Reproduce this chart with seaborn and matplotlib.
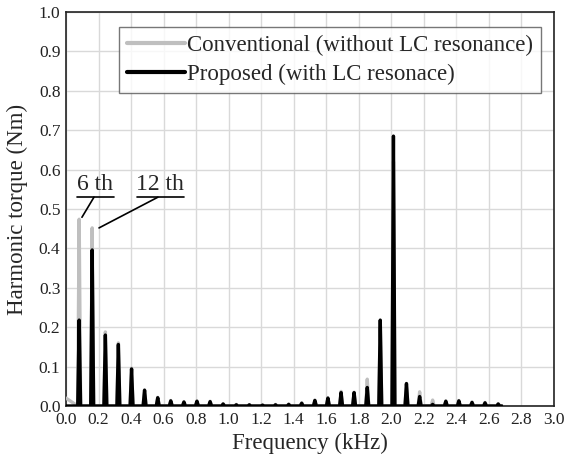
import matplotlib
matplotlib.use("Agg")
import matplotlib.pyplot as plt
import seaborn as sns
import pandas as pd

# ---- data ----
peak_freq_khz = [0.081, 0.161, 0.242, 0.322, 0.403, 0.483, 0.564, 0.644, 0.725, 0.805,
                 0.886, 0.966, 1.047, 1.127, 1.208, 1.288, 1.369, 1.449, 1.530, 1.610,
                 1.691, 1.771, 1.852, 1.932, 2.013, 2.093, 2.174, 2.254, 2.335, 2.415,
                 2.496, 2.576, 2.657]
conventional = [0.474, 0.452, 0.188, 0.160, 0.096, 0.041, 0.022, 0.014, 0.011, 0.013,
                0.012, 0.006, 0.004, 0.003, 0.003, 0.004, 0.005, 0.008, 0.015, 0.021,
                0.037, 0.035, 0.068, 0.200, 0.620, 0.055, 0.036, 0.015, 0.013, 0.014,
                0.010, 0.009, 0.006]
proposed = [0.218, 0.396, 0.180, 0.156, 0.094, 0.040, 0.021, 0.013, 0.010, 0.012,
            0.011, 0.005, 0.003, 0.003, 0.002, 0.003, 0.004, 0.007, 0.014, 0.020,
            0.034, 0.034, 0.047, 0.218, 0.685, 0.057, 0.024, 0.004, 0.012, 0.013,
            0.009, 0.008, 0.005]
dc_level = {"conv": 0.02, "prop": 0.0}
spectrum_end_khz = 2.68
x_ticks = [0.0, 0.2, 0.4, 0.6, 0.8, 1.0, 1.2, 1.4, 1.6, 1.8, 2.0, 2.2, 2.4, 2.6, 2.8, 3.0]
y_ticks = [0.0, 0.1, 0.2, 0.3, 0.4, 0.5, 0.6, 0.7, 0.8, 0.9, 1.0]
label_conv = "Conventional (without LC resonance)"
label_prop = "Proposed (with LC resonace)"


def spectrum(start, amps, half=0.009):
    xs, ys = [0.0], [start]
    for f, a in zip(peak_freq_khz, amps):
        xs += [f - half, f, f + half]
        ys += [0.0, a, 0.0]
    xs.append(spectrum_end_khz)
    ys.append(0.0)
    return pd.DataFrame({"f": xs, "t": ys})


sns.set_theme(style="white")
plt.rcParams["font.family"] = ["Liberation Serif", "DejaVu Serif"]
plt.rcParams["mathtext.fontset"] = "stix"

fig = plt.figure(figsize=(5.66, 4.66), dpi=100)
ax = fig.add_axes([0.1166, 0.1288, 0.8622, 0.8454])

df_c = spectrum(dc_level["conv"], conventional)
df_p = spectrum(dc_level["prop"], proposed)
sns.lineplot(data=df_c, x="f", y="t", sort=False, estimator=None, ax=ax,
             color="#bfbfbf", linewidth=2.4, label=label_conv, zorder=3)
sns.lineplot(data=df_p, x="f", y="t", sort=False, estimator=None, ax=ax,
             color="black", linewidth=2.4, label=label_prop, zorder=4)

ax.set_xlim(0, 3.0)
ax.set_ylim(0, 1.0)
ax.set_xticks(x_ticks)
ax.set_yticks(y_ticks)
ax.set_xticklabels([f"{v:.1f}" for v in x_ticks])
ax.set_yticklabels([f"{v:.1f}" for v in y_ticks])
ax.tick_params(axis="both", labelsize=12.5, length=0, pad=4, colors="#222222")
ax.grid(True, color="#d9d9d9", linewidth=1.0)
ax.set_axisbelow(True)
for s in ax.spines.values():
    s.set_color("#222222")
    s.set_linewidth(1.2)
    s.set_visible(True)

ax.set_xlabel("Frequency (kHz)", fontsize=16.5, labelpad=4)
ax.set_ylabel("Harmonic torque (Nm)", fontsize=16.5, labelpad=8)

leg = ax.legend(loc="upper left", bbox_to_anchor=(0.108, 0.962), borderaxespad=0,
                fontsize=16.5, frameon=True, fancybox=False, handlelength=2.55,
                handletextpad=0.1, borderpad=0.35, labelspacing=0.35)
leg.get_frame().set_edgecolor("#555555")
leg.get_frame().set_linewidth(1.0)
for line in leg.get_lines():
    line.set_linewidth(3.0)

# annotations
ax.text(0.18, 0.536, "6 th", fontsize=17, ha="center", va="bottom")
ax.plot([0.068, 0.295], [0.530, 0.530], color="black", lw=1.2)
ax.plot([0.172, 0.098], [0.530, 0.479], color="black", lw=1.2)
ax.text(0.58, 0.536, "12 th", fontsize=17, ha="center", va="bottom")
ax.plot([0.436, 0.725], [0.530, 0.530], color="black", lw=1.2)
ax.plot([0.565, 0.203], [0.530, 0.452], color="black", lw=1.2)

fig.savefig("out.png", dpi=100)
